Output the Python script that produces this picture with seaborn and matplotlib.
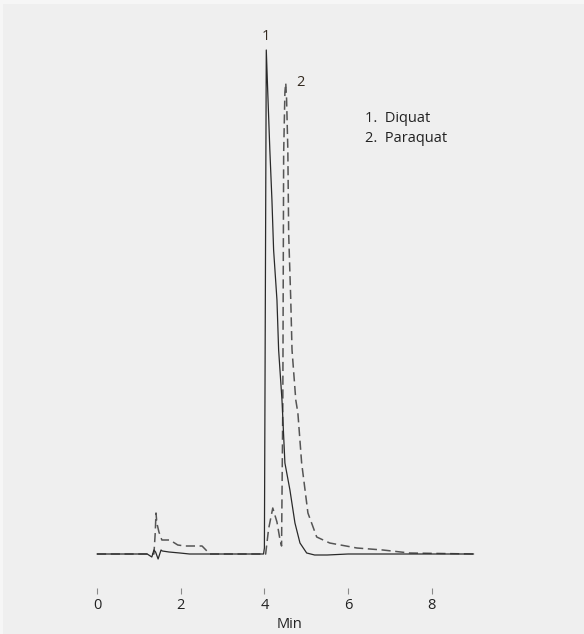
import matplotlib
matplotlib.use("Agg")
import matplotlib.pyplot as plt
import seaborn as sns
import pandas as pd
from matplotlib.patches import Rectangle

# Chromatogram traces (time in minutes, detector response in arbitrary units)
time_diquat = [0.0, 1.20, 1.31, 1.36, 1.40, 1.46, 1.53, 1.56, 1.72, 1.98, 2.21, 3.0,
               3.98, 4.00, 4.045, 4.08, 4.13, 4.18, 4.22, 4.30, 4.34, 4.42, 4.49,
               4.61, 4.73, 4.85, 5.01, 5.20, 5.50, 6.0, 9.0]
signal_diquat = [0, 0, -3, 4, 2, -5, 4, 3, 2, 1, 0, 0,
                 0, 6, 504, 462, 404, 354, 304, 254, 204, 154, 91,
                 64, 31, 11, 1, -1, -1, 0, 0]

time_paraquat = [0.0, 1.36, 1.39, 1.41, 1.43, 1.48, 1.55, 1.74, 1.93, 2.10, 2.51, 2.65,
                 2.70, 4.03, 4.10, 4.20, 4.30, 4.37, 4.41, 4.44, 4.46, 4.49, 4.51,
                 4.53, 4.56, 4.58, 4.63, 4.66, 4.75, 4.80, 4.89, 5.04, 5.25, 5.56,
                 6.21, 6.83, 7.47, 9.0]
signal_paraquat = [0, 0, 20, 41, 31, 22, 14, 14, 9, 8, 8, 2,
                   0, 0, 25, 46, 32, 15, 8, 150, 400, 462, 471,
                   455, 404, 320, 254, 204, 154, 141, 91, 41, 17, 11,
                   6, 4, 1, 0]

tick_values = [0, 2, 4, 6, 8]
peak_numbers = ["1", "2"]
peak_label_pos = [(4.04, 518), (4.87, 472)]
compound_names = ["1.  Diquat", "2.  Paraquat"]

sns.set_theme(style="white")
plt.rcParams["font.family"] = ["Open Sans", "DejaVu Sans"]

fig = plt.figure(figsize=(5.84, 6.34), dpi=100, facecolor="#f6f6f6")
fig.patches.append(Rectangle((3 / 584, 0), 1, (634 - 4) / 634, transform=fig.transFigure,
                             facecolor="#efefef", edgecolor="none", zorder=-10))

ax = fig.add_axes([60 / 584, (634 - 588) / 634, (520 - 60) / 584, (588 - 14) / 634])
ax.set_facecolor("none")

df_d = pd.DataFrame({"Min": time_diquat, "Signal": signal_diquat})
df_p = pd.DataFrame({"Min": time_paraquat, "Signal": signal_paraquat})

sns.lineplot(data=df_p, x="Min", y="Signal", ax=ax, color="#555555", lw=1.1,
             linestyle=(0, (6, 3)), sort=False, estimator=None)
sns.lineplot(data=df_d, x="Min", y="Signal", ax=ax, color="#2a2a2a", lw=0.9,
             sort=False, estimator=None)

px_per_min = 41.85
ax.set_xlim((60 - 97) / px_per_min, (520 - 97) / px_per_min)
ax.set_ylim(-34, 540)

for s in ax.spines.values():
    s.set_visible(False)

text_color = "#222222"
ax.set_xticks(tick_values)
ax.set_xticklabels([str(v) for v in tick_values])
ax.tick_params(axis="x", direction="out", length=4, width=0.8, color="#8a8a8a",
               labelsize=10.5, labelcolor=text_color, pad=3, bottom=True)
ax.set_yticks([])
ax.set_ylabel("")
ax.set_xlabel("")
ax.text(4.6, -0.063, "Min", transform=ax.get_xaxis_transform(), ha="center", va="center",
        fontsize=10.5, color=text_color)

for lab, (tx, ty) in zip(peak_numbers, peak_label_pos):
    ax.text(tx, ty, lab, ha="center", va="center", fontsize=10.5, color="#33291f")

for i, name in enumerate(compound_names):
    ax.text(6.4, 436 - i * 20, name, ha="left", va="center", fontsize=10.5, color=text_color)

fig.savefig("out.png", dpi=100, facecolor=fig.get_facecolor())
